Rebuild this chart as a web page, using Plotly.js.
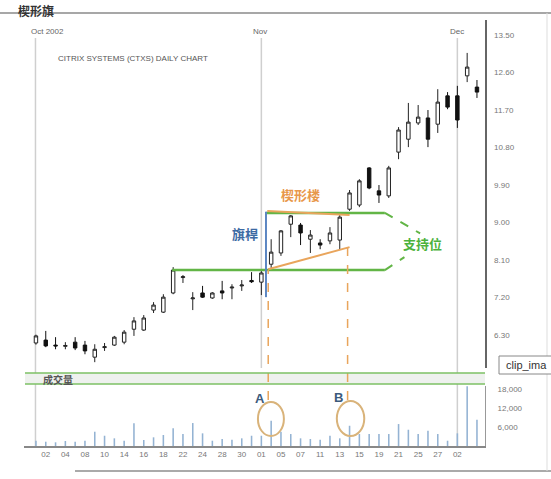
<!DOCTYPE html>
<html>
<head>
<meta charset="utf-8">
<script src="https://cdn.plot.ly/plotly-3.0.1.min.js"></script>
<style>html,body{margin:0;padding:0;background:#fff;}#chart{width:551px;height:479px;}</style>
</head>
<body>
<div id="chart"></div>
<script>
// ---- data ----
const dates = ['10/01','10/02','10/03','10/04','10/07','10/08','10/09','10/10','10/11','10/14','10/15','10/16','10/17','10/18','10/21','10/22','10/23','10/24','10/25','10/28','10/29','10/30','10/31',
  '11/01','11/04','11/05','11/06','11/07','11/08','11/11','11/12','11/13','11/14','11/15','11/18','11/19','11/20','11/21','11/22','11/25','11/26','11/27','11/29',
  '12/02','12/03','12/04'];
const openP  = [6.11,6.18,6.06,6.03,6.13,6.06,5.77,6.00,6.06,6.13, 6.44,6.42,6.90,6.85,7.31,7.68,7.17,7.31,7.19,7.36, 7.43,7.48,7.61,7.57,
  8.00,8.27,8.96,8.94,8.60,8.51, 8.56,8.58,9.32,9.42,10.31,9.76,9.64,10.69,11.00,11.39, 11.51,11.36,12.04,12.04,12.52,12.25];
const highP  = [6.31,6.40,6.25,6.13,6.25,6.16,6.08,6.11,6.28,6.42, 6.73,6.78,7.09,7.28,7.93,7.74,7.33,7.48,7.33,7.60, 7.52,7.62,7.81,7.86,
  8.60,8.82,9.18,8.99,8.82,8.60, 8.89,9.18,9.78,10.04,10.33,9.90,10.36,11.29,11.87,11.82, 11.70,12.20,12.13,12.28,13.07,12.42];
const lowP   = [6.07,6.01,5.96,5.96,5.94,5.84,5.65,5.92,6.04,6.08, 6.28,6.40,6.83,6.83,7.28,7.55,6.90,7.19,7.17,7.16, 7.16,7.36,7.55,7.26,
  7.91,8.20,8.65,8.46,8.27,8.36, 8.48,8.34,9.28,9.37,9.80,9.47,9.59,10.52,10.81,11.34, 10.81,11.15,11.72,11.27,12.37,11.99];
const closeP = [6.28,6.04,6.04,6.05,5.99,5.92,5.96,6.02,6.25,6.37, 6.64,6.71,7.02,7.21,7.86,7.70,7.19,7.21,7.31,7.31, 7.45,7.50,7.58,7.79,
  8.29,8.80,9.16,8.75,8.70,8.46, 8.75,9.13,9.71,10.00,9.83,9.66,10.31,11.22,11.41,11.53, 11.00,11.89,11.77,11.46,12.73,12.13];
const volume = [1700,1360,1170,1580,1360,1670,4520,3250,2430,1670, 7170,1900,2750,3480,5590,3790,7270,4010,1670,2210, 1990,2430,3250,3250,
  7990,4520,3790,2430,2210,1990, 3250,2430,6410,3790,3790,3790,3790,6950,5150,3790, 4840,3790,1670,4010,18900,8310];
const tickDates = ['10/02','10/04','10/08','10/10','10/14','10/16','10/18','10/22','10/24','10/28','10/30','11/01','11/05','11/07','11/11','11/13','11/15','11/19','11/21','11/25','11/27','12/02'];
const tickText  = ['02','04','08','10','14','16','18','22','24','28','30','01','05','07','11','13','15','19','21','25','27','02'];
const priceTicks = [6.30,7.20,8.10,9.00,9.90,10.80,11.70,12.60,13.50];
const volTicks = [6000,12000,18000];
const volTickText = ['6,000','12,000','18,000'];
const supportLow = 7.86, supportHigh = 9.23;

// ---- layout helpers (decoration placement only) ----
const W = 551, H = 479, ML = 24, MR = 66, MT = 20, MB = 33;
const PW = W - ML - MR, PH = H - MT - MB;
const px = x => (x - ML) / PW;
const py = y => (H - MB - y) / PH;
const iOf = d => dates.indexOf(d);

const font = 'Liberation Sans, Arial, sans-serif';
const cjk = 'Noto Sans CJK SC, sans-serif';

const traces = [
  {type:'candlestick', x:dates, open:openP, high:highP, low:lowP, close:closeP,
   xaxis:'x', yaxis:'y', whiskerwidth:0,
   increasing:{line:{color:'#222', width:1}, fillcolor:'#ffffff'},
   decreasing:{line:{color:'#111', width:1}, fillcolor:'#111111'},
   hoverinfo:'skip', showlegend:false},
  {type:'bar', x:dates, y:volume, xaxis:'x', yaxis:'y2', width:0.16,
   marker:{color:'#94b3d3'}, hoverinfo:'skip', showlegend:false}
];

const green = '#62b546', orange = '#e9a55c';
const shapes = [
  // month separators
  {type:'line', xref:'x', yref:'paper', x0:-0.05, x1:-0.05, y0:0, y1:py(38), line:{color:'#cfcfcf', width:1.5}, layer:'below'},
  {type:'line', xref:'x', yref:'paper', x0:iOf('11/01'), x1:iOf('11/01'), y0:py(368), y1:py(38), line:{color:'#cfcfcf', width:1.5}, layer:'below'},
  {type:'line', xref:'x', yref:'paper', x0:iOf('12/02'), x1:iOf('12/02'), y0:0, y1:py(38), line:{color:'#cfcfcf', width:1.5}, layer:'below'},
  // support lines
  {type:'line', xref:'x', yref:'y', x0:13.9, x1:35.6, y0:supportLow, y1:supportLow, line:{color:green, width:2.5}},
  {type:'line', xref:'x', yref:'y', x0:23.5, x1:35.6, y0:supportHigh, y1:supportHigh, line:{color:green, width:2.5}},
  {type:'line', xref:'x', yref:'y', x0:35.6, x1:39.2, y0:supportHigh, y1:8.74, line:{color:green, width:2, dash:'dash'}},
  {type:'line', xref:'x', yref:'y', x0:35.6, x1:37.6, y0:supportLow, y1:8.17, line:{color:green, width:2, dash:'dash'}},
  // wedge
  {type:'line', xref:'x', yref:'y', x0:23.6, x1:32.0, y0:9.28, y1:9.18, line:{color:orange, width:2}},
  {type:'line', xref:'x', yref:'y', x0:23.7, x1:32.0, y0:7.88, y1:8.41, line:{color:orange, width:2}},
  // flagpole
  {type:'line', xref:'x', yref:'y', x0:23.47, x1:23.47, y0:7.21, y1:9.26, line:{color:'#5b86c2', width:2}},
  // breakout dashed verticals
  {type:'line', xref:'x', yref:'paper', x0:23.7, x1:23.7, y0:py(400), y1:py(270), line:{color:orange, width:1.5, dash:'dash'}},
  {type:'line', xref:'x', yref:'paper', x0:31.8, x1:31.8, y0:py(400), y1:py(246), line:{color:orange, width:1.5, dash:'dash'}},
  // circles on volume
  {type:'circle', xref:'x', yref:'y2', x0:22.65, x1:25.3, y0:3170, y1:13935, line:{color:'#d9b37a', width:2}},
  {type:'circle', xref:'x', yref:'y2', x0:30.7, x1:33.5, y0:3170, y1:14250, line:{color:'#d9b37a', width:2}},
  // volume header band
  {type:'rect', xref:'paper', yref:'paper', x0:px(25), x1:1, y0:py(384), y1:py(373), fillcolor:'#eef1ee', line:{width:0}, layer:'below'},
  {type:'line', xref:'paper', yref:'paper', x0:px(25), x1:1, y0:py(373), y1:py(373), line:{color:'#7dc064', width:1.5}},
  {type:'line', xref:'paper', yref:'paper', x0:px(25), x1:1, y0:py(384), y1:py(384), line:{color:'#7dc064', width:1.5}},
  // frame
  {type:'line', xref:'paper', yref:'paper', x0:px(0), x1:px(551), y0:py(13), y1:py(13), line:{color:'#8a8a8a', width:1.5}},
  {type:'line', xref:'paper', yref:'paper', x0:px(75), x1:px(551), y0:py(471), y1:py(471), line:{color:'#aaaaaa', width:2}},
  {type:'line', xref:'paper', yref:'paper', x0:px(547), x1:px(547), y0:py(471), y1:py(13), line:{color:'#dddddd', width:1}},
  // clip box
  {type:'rect', xref:'paper', yref:'paper', x0:px(499), x1:px(553), y0:py(374), y1:py(356), fillcolor:'#ffffff', line:{color:'#888', width:1}}
];

const ann = (text, x, y, opts) => Object.assign({text, x, y, xref:'paper', yref:'paper', showarrow:false, xanchor:'center', yanchor:'middle'}, opts);
const annotations = [
  ann('<b>楔形旗</b>', px(36), py(1), {yanchor:'top', borderpad:0, font:{family:cjk, size:12, color:'#333'}}),
  ann('Oct 2002', 1.2, py(32), {xref:'x', font:{family:font, size:8, color:'#666'}}),
  ann('Nov', 22.9, py(32), {xref:'x', font:{family:font, size:8, color:'#666'}}),
  ann('Dec', 42.95, py(32), {xref:'x', font:{family:font, size:8, color:'#666'}}),
  ann('CITRIX SYSTEMS (CTXS) DAILY CHART', px(133), py(59), {font:{family:font, size:8, color:'#555'}}),
  ann('<b>楔形楼</b>', px(300), py(194), {font:{family:cjk, size:13, color:'#e8984a'}}),
  ann('<b>旗桿</b>', px(245), py(234), {font:{family:cjk, size:13, color:'#3d6aa3'}}),
  ann('<b>支持位</b>', px(422), py(243), {font:{family:cjk, size:13, color:'#4cb23c'}}),
  ann('<b>成交量</b>', px(58), py(379), {font:{family:cjk, size:10, color:'#555'}}),
  ann('<b>A</b>', px(260), py(398), {font:{family:font, size:13, color:'#3c5a7c'}}),
  ann('<b>B</b>', px(338), py(397), {font:{family:font, size:13, color:'#3c5a7c'}}),
  ann('clip_ima', px(526), py(365), {font:{family:font, size:11, color:'#333'}})
];

const layout = {
  width:W, height:H, margin:{l:ML, r:MR, t:MT, b:MB},
  paper_bgcolor:'#ffffff', plot_bgcolor:'#ffffff',
  showlegend:false, boxgap:0.5,
  xaxis:{type:'category', anchor:'y2', range:[-1.22, 45.82], tickvals:tickDates, ticktext:tickText,
         tickfont:{family:font, size:8, color:'#777'}, showline:true, linecolor:'#888', linewidth:1.5,
         ticks:'', showgrid:false, zeroline:false, rangeslider:{visible:false}, fixedrange:true},
  yaxis:{domain:[py(368), 1], range:[5.51, 13.86], side:'right', showline:true, linecolor:'#666', linewidth:1.5,
         tickvals:priceTicks, ticktext:priceTicks.map(v=>v.toFixed(2)), tickfont:{family:font, size:8, color:'#777'},
         showgrid:false, zeroline:false, ticks:'', ticklabelstandoff:6},
  yaxis2:{domain:[0, py(386)], range:[0, 19000], side:'right', showline:true, linecolor:'#999', linewidth:1,
          tickvals:volTicks, ticktext:volTickText, tickfont:{family:font, size:8, color:'#777'},
          showgrid:false, zeroline:false, ticks:'', ticklabelstandoff:10},
  shapes, annotations
};

Plotly.newPlot('chart', traces, layout, {staticPlot:true, displayModeBar:false});
</script>
</body>
</html>
